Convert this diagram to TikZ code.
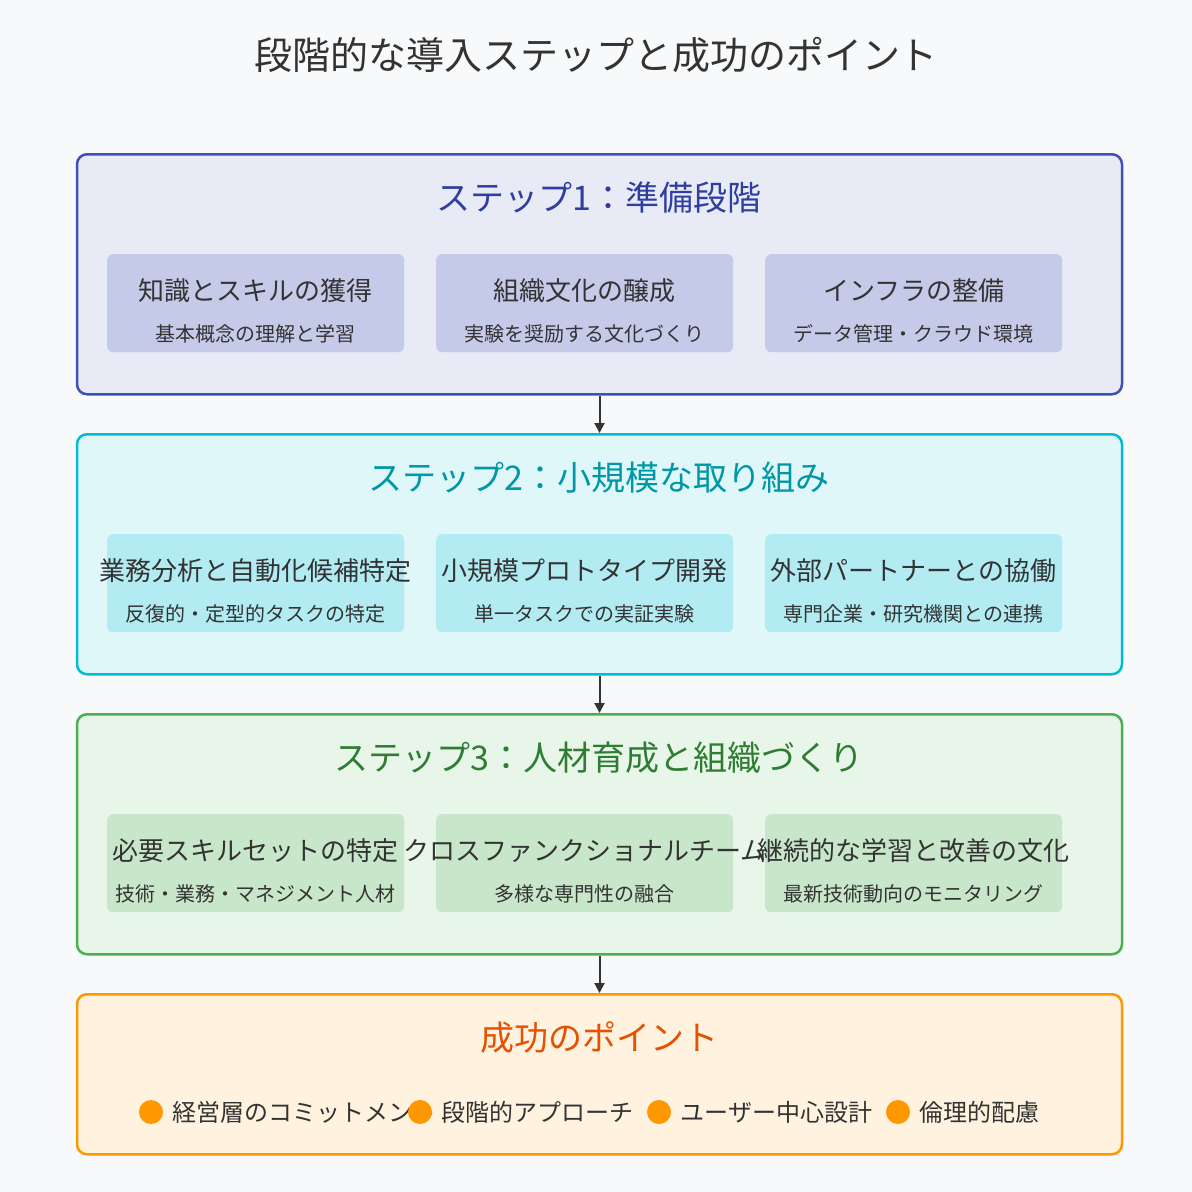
\documentclass[tikz,border=0pt]{standalone}
\usepackage{fontspec}
\setmainfont{Noto Sans CJK JP}
\usetikzlibrary{arrows.meta, positioning}
\definecolor{bgc}{HTML}{F8F9FA}
\definecolor{ink}{HTML}{333333}
\definecolor{sAfill}{HTML}{E8EAF6}\definecolor{sAline}{HTML}{3F51B5}\definecolor{sAhead}{HTML}{303F9F}\definecolor{sAsub}{HTML}{C5CAE9}
\definecolor{sBfill}{HTML}{E0F7FA}\definecolor{sBline}{HTML}{00BCD4}\definecolor{sBhead}{HTML}{0097A7}\definecolor{sBsub}{HTML}{B2EBF2}
\definecolor{sCfill}{HTML}{E8F5E9}\definecolor{sCline}{HTML}{4CAF50}\definecolor{sChead}{HTML}{2E7D32}\definecolor{sCsub}{HTML}{C8E6C9}
\definecolor{sDfill}{HTML}{FFF3E0}\definecolor{sDline}{HTML}{FF9800}\definecolor{sDhead}{HTML}{E65100}
\begin{document}
\begin{tikzpicture}[x=1pt, y=-1pt,
        stage/.style={draw, line width=2.5pt, rounded corners=10pt, minimum width=1045pt, anchor=north},
        head/.style={font=\fontsize{34}{40}\selectfont},
        item/.style={rounded corners=6pt, minimum width=297pt, minimum height=98pt, anchor=north west},
        main/.style={text=ink, font=\fontsize{26}{30}\selectfont},
        small/.style={text=ink, font=\fontsize{20}{24}\selectfont},
        dot/.style={circle, fill=sDline, minimum size=24pt, inner sep=0pt},
        point/.style={text=ink, anchor=west, font=\fontsize{24}{28}\selectfont},
        arrow/.style={-{Triangle[length=10pt, width=10pt]}, line width=2pt, draw=ink}
    ]
    \useasboundingbox[fill=bgc] (0,0) rectangle (1192,1192);
    \node[text=ink, font=\fontsize{38}{44}\selectfont] (title) at (596,55) {段階的な導入ステップと成功のポイント};

    % Step 1
    \node[stage, draw=sAline, fill=sAfill, minimum height=240pt] (step1) at (599.5,153) {};
    \node[head, text=sAhead] (step1head) at (599,198) {ステップ1：準備段階};
    \foreach \i/\x/\a/\b in {1/107/知識とスキルの獲得/基本概念の理解と学習, 2/436/組織文化の醸成/実験を奨励する文化づくり, 3/765/インフラの整備/データ管理・クラウド環境}{
        \node[item, fill=sAsub] (s1i\i) at (\x,254) {};
        \node[main] at ([yshift=-37pt]s1i\i.north) {\a};
        \node[small] at ([yshift=-80pt]s1i\i.north) {\b};
    }

    % Step 2
    \node[stage, draw=sBline, fill=sBfill, minimum height=240pt] (step2) at (599.5,433) {};
    \node[head, text=sBhead] (step2head) at (599,478) {ステップ2：小規模な取り組み};
    \foreach \i/\x/\a/\b in {1/107/業務分析と自動化候補特定/反復的・定型的タスクの特定, 2/436/小規模プロトタイプ開発/単一タスクでの実証実験, 3/765/外部パートナーとの協働/専門企業・研究機関との連携}{
        \node[item, fill=sBsub] (s2i\i) at (\x,534) {};
        \node[main] at ([yshift=-37pt]s2i\i.north) {\a};
        \node[small] at ([yshift=-80pt]s2i\i.north) {\b};
    }

    % Step 3
    \node[stage, draw=sCline, fill=sCfill, minimum height=240pt] (step3) at (599.5,713) {};
    \node[head, text=sChead] (step3head) at (599,758) {ステップ3：人材育成と組織づくり};
    \foreach \i/\x/\a/\b in {1/107/必要スキルセットの特定/技術・業務・マネジメント人材, 2/436/クロスファンクショナルチーム/多様な専門性の融合, 3/765/継続的な学習と改善の文化/最新技術動向のモニタリング}{
        \node[item, fill=sCsub] (s3i\i) at (\x,814) {};
        \node[main] at ([yshift=-37pt]s3i\i.north) {\a};
        \node[small] at ([yshift=-80pt]s3i\i.north) {\b};
    }

    % Success points
    \node[stage, draw=sDline, fill=sDfill, minimum height=160pt] (keys) at (599.5,993) {};
    \node[head, text=sDhead] (keyshead) at (599,1038) {成功のポイント};
    \foreach \i/\x/\t in {1/151/経営層のコミットメント, 2/420/段階的アプローチ, 3/659/ユーザー中心設計, 4/898/倫理的配慮}{
        \node[dot] (dot\i) at (\x,1112) {};
        \node[point] at ([xshift=6pt]dot\i.east) {\t};
    }

    \draw[arrow] (step1.south) -- (step2.north);
    \draw[arrow] (step2.south) -- (step3.north);
    \draw[arrow] (step3.south) -- (keys.north);
\end{tikzpicture}
\end{document}
